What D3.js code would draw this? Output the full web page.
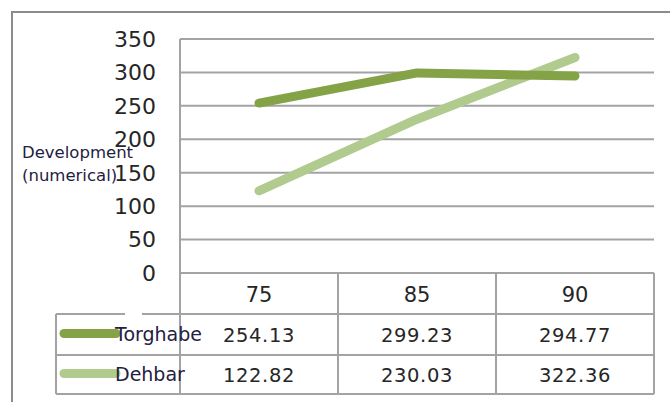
<!DOCTYPE html>
<html><head><meta charset="utf-8">
<script src="https://cdn.jsdelivr.net/npm/d3@7"></script>
<style>html,body{margin:0;padding:0;background:#fff;}svg{display:block;}</style>
</head><body>
<svg id="c" width="670" height="402"></svg>
<script>
const categories = ["75", "85", "90"];
const seriesNames = ["Torghabe", "Dehbar"];
const torghabe = [254.13, 299.23, 294.77];
const dehbar = [122.82, 230.03, 322.36];
const yTicks = [0, 50, 100, 150, 200, 250, 300, 350];
const seriesColors = ["#84a346", "#b0cb8d"];
const yTitle = ["Development", "(numerical)"];

const series = [torghabe, dehbar];
const svg = d3.select("#c");
const gray = "#a3a3a3";
const font = "DejaVu Sans, Verdana, sans-serif";

const x = d3.scaleBand().domain(categories).range([180, 654]);
const y = d3.scaleLinear().domain([0, 350]).range([273, 39]);

// outer frame
svg.append("path").attr("d", "M12,402V12H670").attr("fill", "none")
  .attr("stroke", "#8c8c8c").attr("stroke-width", 2);

// gridlines
svg.append("g").selectAll("line").data(yTicks).join("line")
  .attr("x1", 180).attr("x2", 654)
  .attr("y1", d => y(d)).attr("y2", d => y(d))
  .attr("stroke", gray).attr("stroke-width", 2);

// y tick labels
svg.append("g").selectAll("text").data(yTicks).join("text")
  .attr("x", 156).attr("y", d => y(d)).attr("dy", "0.36em")
  .attr("text-anchor", "end").attr("font-family", font).attr("font-size", 22)
  .attr("fill", "#262626").text(d => d);

// y title
svg.append("g").selectAll("text").data(yTitle).join("text")
  .attr("x", 22).attr("y", (d, i) => 158 + i * 23)
  .attr("font-family", font).attr("font-size", 16.5)
  .attr("fill", "#1f2140").text(d => d);

// data table
const rowTop = [273, 314, 355, 394];
const tblLeft = 56;
const tbl = svg.append("g").attr("stroke", gray).attr("stroke-width", 2);
// vertical lines
tbl.append("line").attr("x1", 180).attr("x2", 180).attr("y1", y(350)).attr("y2", rowTop[3]);
categories.forEach(c => {
  const xr = x(c) + x.bandwidth();
  tbl.append("line").attr("x1", xr).attr("x2", xr).attr("y1", rowTop[0]).attr("y2", rowTop[3]);
});
tbl.append("line").attr("x1", tblLeft).attr("x2", tblLeft).attr("y1", rowTop[1]).attr("y2", rowTop[3]);
// horizontal lines
tbl.append("line").attr("x1", tblLeft).attr("x2", 125).attr("y1", rowTop[1]).attr("y2", rowTop[1]);
tbl.append("line").attr("x1", 142).attr("x2", 654).attr("y1", rowTop[1]).attr("y2", rowTop[1]);
[rowTop[2], rowTop[3]].forEach(v => {
  tbl.append("line").attr("x1", tblLeft).attr("x2", 654).attr("y1", v).attr("y2", v);
});

// category labels
svg.append("g").selectAll("text").data(categories).join("text")
  .attr("x", d => x(d) + x.bandwidth() / 2).attr("y", (rowTop[0] + rowTop[1]) / 2 + 1).attr("dy", "0.36em")
  .attr("text-anchor", "middle").attr("font-family", font).attr("font-size", 21)
  .attr("fill", "#262626").text(d => d);

// table rows
series.forEach((vals, i) => {
  const cy = (rowTop[i + 1] + rowTop[i + 2]) / 2;
  svg.append("line").attr("x1", 64).attr("x2", 116).attr("y1", cy - 1).attr("y2", cy - 1)
    .attr("stroke", seriesColors[i]).attr("stroke-width", 9).attr("stroke-linecap", "round");
  svg.append("text").attr("x", 115).attr("y", cy).attr("dy", "0.36em")
    .attr("font-family", font).attr("font-size", 19).attr("fill", "#1f2140").text(seriesNames[i]);
  svg.append("g").selectAll("text").data(vals).join("text")
    .attr("x", (d, j) => x(categories[j]) + x.bandwidth() / 2).attr("y", cy).attr("dy", "0.36em")
    .attr("text-anchor", "middle").attr("font-family", font).attr("font-size", 19.5)
    .attr("letter-spacing", 0.6)
    .attr("fill", "#262626").text(d => d.toFixed(2));
});

// lines
const line = d3.line().x((d, j) => x(categories[j]) + x.bandwidth() / 2).y(d => y(d));
[1, 0].forEach(i => {
  svg.append("path").datum(series[i]).attr("d", line).attr("fill", "none")
    .attr("stroke", seriesColors[i]).attr("stroke-width", 9)
    .attr("stroke-linecap", "round").attr("stroke-linejoin", "round");
});
</script>
</body></html>
